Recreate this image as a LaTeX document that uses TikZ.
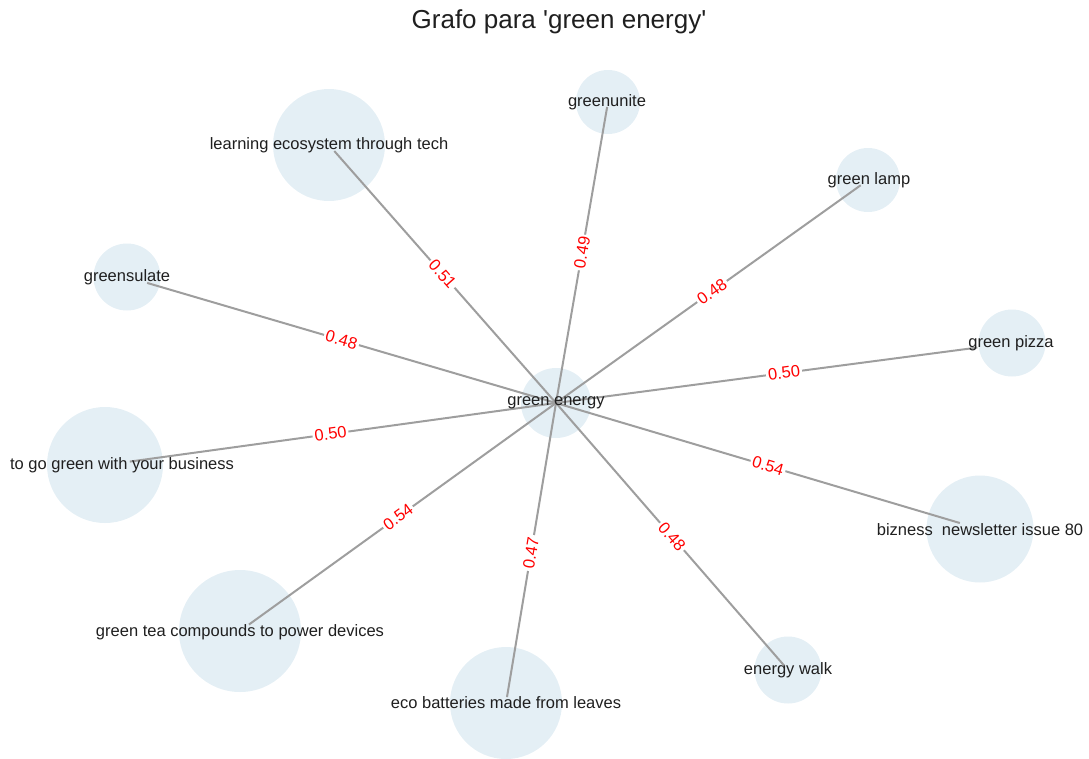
\documentclass[tikz,border=0pt]{standalone}
\usepackage{fontspec}
\setmainfont{Liberation Sans}
\usepackage{xcolor}
\definecolor{nodeblue}{RGB}{228,239,245}
\definecolor{edgegray}{RGB}{158,158,158}
\definecolor{weightred}{RGB}{255,0,0}

\begin{document}
\begin{tikzpicture}[x=1pt,y=-1pt,
  blob/.style={circle,fill=nodeblue,draw=none,inner sep=0pt},
  link/.style={draw=edgegray,line width=2pt},
  weight/.style={text=weightred,fill=white,inner sep=2pt,sloped,font=\fontsize{16.5}{19}\selectfont},
  tag/.style={text=black!88,inner sep=0pt,font=\fontsize{16.5}{19}\selectfont}]

\useasboundingbox (0,0) rectangle (1089,758);
\clip (0,0) rectangle (1089,758);

% circles
\node[blob,minimum size=70pt]  (ge)      at (556,403) {};
\node[blob,minimum size=112pt] (learn)   at (329,145) {};
\node[blob,minimum size=64pt]  (unite)   at (608,102) {};
\node[blob,minimum size=64pt]  (lamp)    at (868,180) {};
\node[blob,minimum size=67pt]  (sulate)  at (127,277) {};
\node[blob,minimum size=67pt]  (pizza)   at (1012,343) {};
\node[blob,minimum size=116pt] (gogreen) at (105,465) {};
\node[blob,minimum size=107pt] (bizness) at (980,529) {};
\node[blob,minimum size=122pt] (tea)     at (240,631) {};
\node[blob,minimum size=112pt] (eco)     at (506,703) {};
\node[blob,minimum size=67pt]  (walk)    at (788,670) {};

% edges
\draw[link,shorten >=8pt]  (ge.center) -- node[weight]{0.51} (learn.center);
\draw[link,shorten >=5pt]  (ge.center) -- node[weight]{0.49} (unite.center);
\draw[link,shorten >=9pt]  (ge.center) -- node[weight]{0.48} (lamp.center);
\draw[link,shorten >=21pt] (ge.center) -- node[weight]{0.48} (sulate.center);
\draw[link,shorten >=35pt] (ge.center) -- node[weight]{0.50} (pizza.center);
\draw[link,shorten >=25pt] (ge.center) -- node[weight]{0.50} (gogreen.center);
\draw[link,shorten >=21pt] (ge.center) -- node[weight]{0.54} (bizness.center);
\draw[link,shorten >=11pt] (ge.center) -- node[weight]{0.54} (tea.center);
\draw[link,shorten >=6pt]  (ge.center) -- node[weight]{0.47} (eco.center);
\draw[link,shorten >=6pt]  (ge.center) -- node[weight]{0.48} (walk.center);

% labels
\node[tag] (geL)      at (556,403) {green energy};
\node[tag] (learnL)   at (329,145) {learning ecosystem through tech};
\node[tag] (uniteL)   at (607,102) {greenunite};
\node[tag] (lampL)    at (869,180) {green lamp};
\node[tag] (sulateL)  at (127,277) {greensulate};
\node[tag] (pizzaL)   at (1011,343) {green pizza};
\node[tag] (gogreenL) at (122,465) {to go green with your business};
\node[tag] (biznessL) at (980,530) {bizness\ \ newsletter issue 80};
\node[tag] (teaL)     at (240,632) {green tea compounds to power devices};
\node[tag] (ecoL)     at (506,703) {eco batteries made from leaves};
\node[tag] (walkL)    at (788,670) {energy walk};

\node[tag,font=\fontsize{26}{30}\selectfont] (title) at (559,22)
  {Grafo para \textquotesingle green energy\textquotesingle};

\end{tikzpicture}
\end{document}
